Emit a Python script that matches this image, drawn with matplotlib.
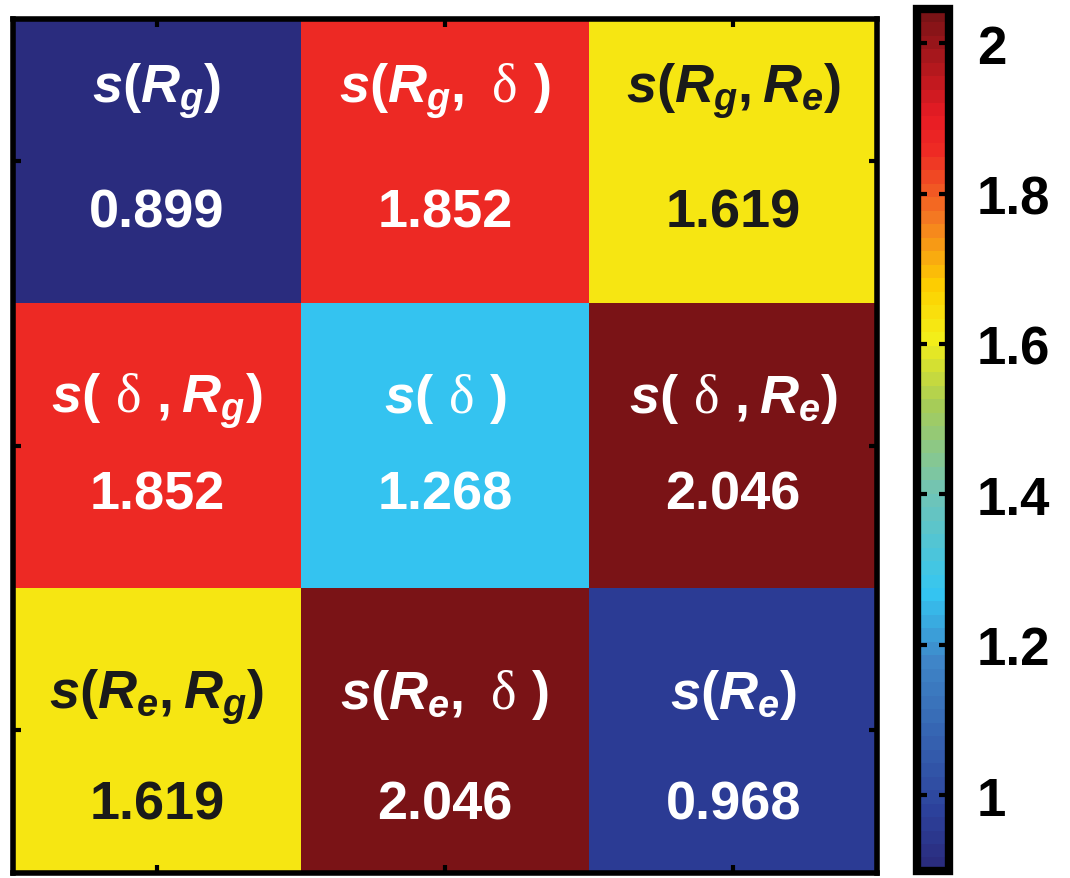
import numpy as np
import matplotlib
matplotlib.use("Agg")
import matplotlib.pyplot as plt
from matplotlib.colors import LinearSegmentedColormap

# sensitivity matrix
values = [
    [0.899, 1.852, 1.619],
    [1.852, 1.268, 2.046],
    [1.619, 2.046, 0.968],
]
labels = [
    [r"$s(R_g)$", r"$s(R_g,\ \mathsf{\delta}\ )$", r"$s(R_g,R_e)$"],
    [r"$s(\ \mathsf{\delta}\ ,R_g)$", r"$s(\ \mathsf{\delta}\ )$", r"$s(\ \mathsf{\delta}\ ,R_e)$"],
    [r"$s(R_e,R_g)$", r"$s(R_e,\ \mathsf{\delta}\ )$", r"$s(R_e)$"],
]
cbar_ticks = [1, 1.2, 1.4, 1.6, 1.8, 2]

plt.rcParams["font.family"] = ["Liberation Sans", "DejaVu Sans"]
plt.rcParams["mathtext.fontset"] = "custom"
plt.rcParams["mathtext.rm"] = "Liberation Sans:bold"
plt.rcParams["mathtext.it"] = "Liberation Sans:bold:italic"
plt.rcParams["mathtext.bf"] = "Liberation Sans:bold"
plt.rcParams["mathtext.sf"] = "Liberation Serif:normal"

data = np.array(values)
vmin, vmax = data.min(), data.max()

# jet-like map, tuned to the reference colours
stops = [
    (0.00, "#2a2c7e"),
    (0.06, "#2c409a"),
    (0.24, "#3f86c8"),
    (0.32, "#34c6f2"),
    (0.44, "#72c4b4"),
    (0.54, "#a6cc58"),
    (0.62, "#f4ee18"),
    (0.68, "#fdd000"),
    (0.76, "#f47a22"),
    (0.84, "#ee2a24"),
    (0.88, "#e81c24"),
    (1.00, "#7a1316"),
]
cmap = LinearSegmentedColormap.from_list("sens", stops, N=64)

fig = plt.figure(figsize=(10.70, 8.79), dpi=100)
ax = fig.add_axes([0.012, 0.006, 0.808, 0.971])
cax = fig.add_axes([0.857, 0.008, 0.030, 0.981])

im = ax.imshow(data, cmap=cmap, vmin=vmin, vmax=vmax, aspect="auto")

# vertical offsets (label baseline, number baseline) per row
label_dy = [-0.21, -0.12, -0.08]
number_dy = [0.23, 0.22, 0.31]

for r in range(3):
    for c in range(3):
        v = values[r][c]
        col = "#1a1a1a" if 1.5 < v < 1.7 else "white"
        ax.text(c, r + label_dy[r], labels[r][c], ha="center", va="baseline",
                fontsize=39, color=col)
        ax.text(c, r + number_dy[r], f"{v:.3f}", ha="center", va="baseline",
                fontsize=39, fontweight="bold", color=col)

ax.set_xticks(range(3))
ax.set_yticks(range(3))
ax.set_xticklabels([])
ax.set_yticklabels([])
ax.tick_params(direction="in", length=6, width=3, top=True, right=True,
               bottom=True, left=True)
for s in ax.spines.values():
    s.set_linewidth(4)

cb = fig.colorbar(im, cax=cax, ticks=cbar_ticks)
cb.ax.set_yticklabels([f"{t:g}" for t in cbar_ticks])
cb.outline.set_linewidth(6)
cb.ax.tick_params(direction="in", length=7, width=3, labelsize=38, pad=20,
                  left=True, right=True)
for t in cb.ax.get_yticklabels():
    t.set_fontweight("bold")

fig.savefig("out.png", dpi=100)
